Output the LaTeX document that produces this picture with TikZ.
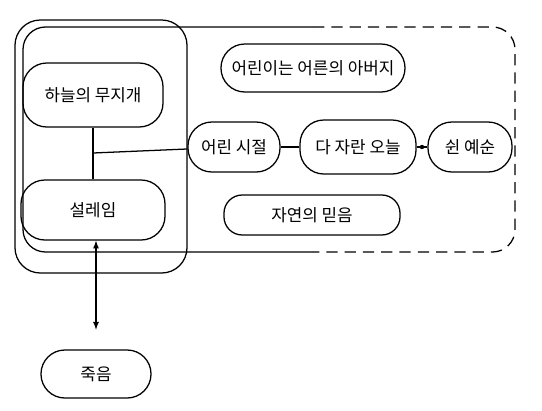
\documentclass[tikz,border=0pt]{standalone}
\usepackage{fontspec}
\usepackage{tikz}
\usetikzlibrary{arrows}
\newfontfamily\kr{Noto Sans CJK KR}

\tikzset{bubble/.style={draw, line width=0.9pt, rounded corners=17pt, inner sep=2pt,
                        font=\kr\fontsize{12pt}{14pt}\selectfont},
         joint/.style={circle, fill, inner sep=1.1pt},
         pen/.style={line width=0.9pt}}

\begin{document}
\begin{tikzpicture}[x=0.025cm, y=-0.025cm]

\useasboundingbox (0,0) rectangle (542,410);

\node[bubble, minimum width=3.5cm, minimum height=1.6cm] (Rbowx) at (93,95) {하늘의 무지개};
\node[bubble, minimum width=3.6cm, minimum height=1.5cm] (Leapx) at (93,210) {설레임};
\coordinate (Jointx) at (93,153);

\node[bubble, minimum width=4.6cm, minimum height=1.2cm] (Fatherx) at (313,68) {어린이는 어른의 아버지};

\node[bubble, minimum width=2.3cm, minimum height=1.25cm] (Childx) at (234,147) {어린 시절};
\node[bubble, minimum width=2.9cm, minimum height=1.35cm] (Grownx) at (358,147) {다 자란 오늘};
\node[bubble, minimum width=2.1cm, minimum height=1.25cm] (Oldx) at (470,147) {쉰 예순};

\node[bubble, rounded corners=13pt, minimum width=4.4cm, minimum height=1.0cm] (Naturex) at (312,215) {자연의 믿음};

\node[bubble, minimum width=2.75cm, minimum height=1.2cm] (Deathx) at (96,374) {죽음};

\draw[pen, rounded corners=18pt] (15,20) rectangle (187,273);
\draw[pen, rounded corners=16pt] (313,27) -- (23,27) -- (23,252) -- (313,252);
\draw[pen, dash pattern=on 8pt off 5pt, rounded corners=16pt] (313,27) -- (515,27) -- (515,252) -- (313,252);

\draw[pen] (Rbowx) -- (Leapx);
\draw[pen] (Jointx) -- (Childx);
\draw[pen] (Childx) -- (Grownx);
\draw[pen] (Grownx) -- node[joint]{} (Oldx);
\draw[pen, latex-latex, shorten >=14pt] (Leapx.south -| Deathx) -- (Deathx);

\end{tikzpicture}
\end{document}
